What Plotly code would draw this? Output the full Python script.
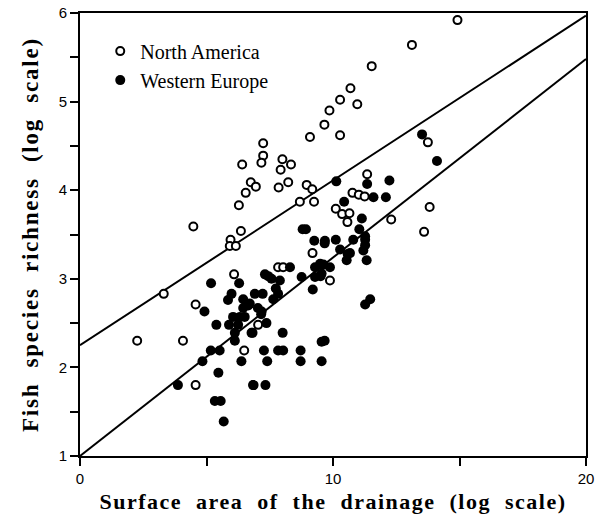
import plotly.graph_objects as go

# ---- data ----
na_x = [14.92, 13.12, 11.53, 10.69, 10.28, 10.96, 9.86, 9.66, 9.09, 10.28,
        7.24, 7.24, 7.17, 6.41, 8.00, 7.93, 8.34, 6.75, 6.95, 6.55,
        7.85, 8.23, 8.96, 9.18, 6.28, 8.69, 9.25, 4.48, 6.36, 5.95,
        5.92, 6.16, 6.09, 11.35, 10.77, 11.02, 11.25, 10.11, 10.36, 10.65,
        10.57, 9.19, 7.83, 8.03, 9.88, 13.75, 13.82, 12.30, 13.60, 3.31,
        4.57, 2.26, 4.07, 4.57, 7.04, 6.49]
na_y = [5.92, 5.64, 5.40, 5.15, 5.02, 4.97, 4.90, 4.74, 4.60, 4.62,
        4.53, 4.39, 4.31, 4.29, 4.35, 4.23, 4.29, 4.09, 4.04, 3.97,
        4.03, 4.09, 4.06, 4.01, 3.83, 3.87, 3.87, 3.59, 3.54, 3.44,
        3.37, 3.37, 3.05, 4.18, 3.97, 3.95, 3.93, 3.79, 3.73, 3.74,
        3.64, 3.29, 3.13, 3.13, 2.98, 4.54, 3.81, 3.67, 3.53, 2.83,
        2.71, 2.30, 2.30, 1.80, 2.48, 2.19]

we_x = [13.52, 14.11, 10.13, 11.35, 12.23, 10.44, 11.60, 12.09, 11.14, 8.80,
        8.93, 11.04, 11.27, 9.26, 9.68, 10.11, 10.80, 10.28, 10.67, 11.27,
        10.54, 11.33, 9.49, 9.29, 9.88, 8.30, 7.31, 7.44, 8.76, 9.51,
        11.20, 9.67, 10.58, 9.62, 9.55, 11.27, 11.47, 9.55, 9.67, 9.55,
        9.20, 6.91, 7.22, 7.83, 7.64, 7.18, 7.37, 6.82, 8.01, 7.27,
        7.83, 8.03, 8.72, 7.40, 8.72, 6.84, 7.33, 7.57, 7.90, 7.74,
        6.71, 7.03, 7.16, 5.18, 4.92, 5.39, 5.17, 5.52, 4.84, 3.87,
        5.47, 5.33, 5.56, 5.68, 6.29, 5.99, 5.85, 6.45, 6.65, 6.05,
        6.32, 6.51, 6.45, 5.89, 6.25, 6.12, 6.12, 6.78, 6.38, 6.86,
        9.29, 11.27]
we_y = [4.63, 4.33, 4.10, 4.07, 4.11, 3.87, 3.92, 3.92, 3.68, 3.56,
        3.56, 3.56, 3.48, 3.43, 3.43, 3.44, 3.44, 3.33, 3.29, 3.38,
        3.21, 3.21, 3.17, 3.13, 3.13, 3.13, 3.05, 3.03, 3.02, 3.03,
        3.32, 3.40, 3.28, 3.16, 3.06, 2.71, 2.77, 2.29, 2.30, 2.07,
        2.88, 2.83, 2.83, 2.83, 2.77, 2.63, 2.50, 2.39, 2.39, 2.19,
        2.19, 2.19, 2.19, 2.07, 2.07, 1.80, 1.80, 3.00, 2.98, 2.89,
        2.72, 2.67, 2.60, 2.95, 2.63, 2.48, 2.19, 2.19, 2.07, 1.80,
        1.94, 1.62, 1.62, 1.39, 2.95, 2.83, 2.76, 2.77, 2.70, 2.57,
        2.57, 2.57, 2.67, 2.48, 2.48, 2.39, 2.30, 2.39, 2.07, 1.80,
        3.02, 3.44]

# regression lines: intercept, slope
na_fit = (2.25, 0.186)
we_fit = (1.00, 0.224)
fit_x = [0, 20]

x_tickvals = [0, 5, 10, 15, 20]
x_ticktext = ["0", "", "10", "", "20"]
y_tickvals = [1, 1.5, 2, 2.5, 3, 3.5, 4, 4.5, 5, 5.5, 6]
y_ticktext = ["1", "", "2", "", "3", "", "4", "", "5", "", "6"]

x_title = "Surface area of the drainage (log scale)"
y_title = "Fish species richness (log scale)"

serif = "Liberation Serif, Times New Roman, serif"
sans = "Liberation Sans, Arial, sans-serif"


def widen(s, n=1, ls=1.5):
    # the reference typesets its axis titles with wide letter and word spacing
    body = s.replace(" ", " " + "\u00a0" * n)
    return '<span style="letter-spacing:%spx">%s</span>' % (ls, body)


fig = go.Figure()

for (b0, b1) in (na_fit, we_fit):
    fig.add_trace(go.Scatter(
        x=fit_x, y=[b0 + b1 * v for v in fit_x], mode="lines",
        line=dict(color="black", width=2), showlegend=False, hoverinfo="skip"))

fig.add_trace(go.Scatter(
    x=na_x, y=na_y, mode="markers", name="North America", legendgroup="na",
    marker=dict(symbol="circle", size=8, color="white",
                line=dict(color="black", width=2))))
fig.add_trace(go.Scatter(
    x=we_x, y=we_y, mode="markers", name="Western Europe", legendgroup="we",
    marker=dict(symbol="circle", size=10, color="black",
                line=dict(color="black", width=0))))

fig.update_layout(
    width=602, height=523,
    margin=dict(l=80, r=16, t=13, b=67),
    plot_bgcolor="white", paper_bgcolor="white",
    showlegend=True,
    legend=dict(x=0.04, y=0.958, xanchor="left", yanchor="top",
                font=dict(family=serif, size=20, color="black"),
                bgcolor="rgba(0,0,0,0)", tracegroupgap=0,
                traceorder="grouped"),
)
fig.update_xaxes(
    range=[0, 20], tickvals=x_tickvals, ticktext=x_ticktext,
    ticks="outside", ticklen=8, tickwidth=2, tickcolor="black",
    showline=True, linecolor="black", linewidth=2, mirror=True,
    showgrid=False, zeroline=False, automargin=False,
    ticklabeloverflow="allow",
    tickfont=dict(family=sans, size=15, color="black"),
    title=dict(text=widen(x_title, 1, 1.5),
               font=dict(family=serif, size=22, color="black", weight="bold"),
               standoff=8))
fig.update_yaxes(
    range=[1, 6], tickvals=y_tickvals, ticktext=y_ticktext,
    ticks="outside", ticklen=8, tickwidth=2, tickcolor="black",
    showline=True, linecolor="black", linewidth=2, mirror=True,
    showgrid=False, zeroline=False, automargin=False,
    ticklabeloverflow="allow",
    tickfont=dict(family=sans, size=15, color="black"),
    title=dict(text=widen(y_title, 1, 1.8),
               font=dict(family=serif, size=23, color="black", weight="bold"),
               standoff=14))

# remove the default 8px page margin so the figure fills the window exactly
fig.write_html("out.html",
               config={"displayModeBar": False},
               post_script="document.body.style.margin='0';")
